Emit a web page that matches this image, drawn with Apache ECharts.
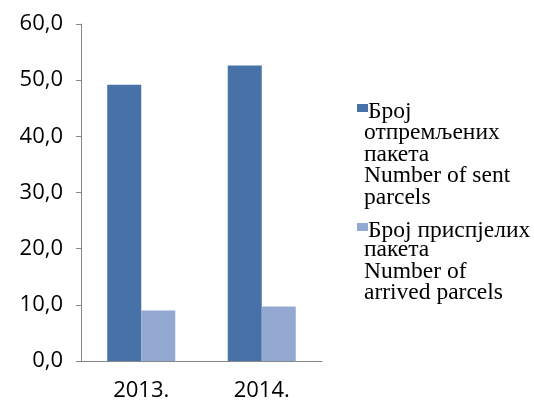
<!DOCTYPE html>
<html>
<head>
<meta charset="utf-8">
<script src="https://cdn.jsdelivr.net/npm/echarts@6/dist/echarts.min.js"></script>
<style>
  html, body { margin: 0; padding: 0; background: #fff; }
  #chart { width: 534px; height: 402px; }
</style>
</head>
<body>
<div id="chart"></div>
<script>
const years = ['2013.', '2014.'];
const sentParcels = [49.2, 52.6];
const arrivedParcels = [9.0, 9.7];
const yTicks = [0, 10, 20, 30, 40, 50, 60];

// legend lines: first line sits next to the marker, the rest wrap under it
const sentLabel = ['Број', 'отпремљених', 'пакета', 'Number of sent', 'parcels'];
const arrivedLabel = ['Број приспјелих', 'пакета', 'Number of', 'arrived parcels'];

const colors = ['#4672A8', '#94A9D1'];
const legendFont = '23.5px "Liberation Serif"';

const chart = echarts.init(document.getElementById('chart'));

const legendItem = (lines, color, top, restTop) => [
  { type: 'rect', left: 357, top: top + 4, shape: { width: 11, height: 8 }, style: { fill: color } },
  {
    type: 'text', left: 368, top: top,
    style: { text: lines[0], font: legendFont, lineHeight: 21.5, fill: '#000' }
  },
  {
    type: 'text', left: 364, top: restTop,
    style: { text: lines.slice(1).join('\n'), font: legendFont, lineHeight: 21.5, fill: '#000' }
  }
];

const option = {
  animation: false,
  grid: { left: 81, right: 212, top: 24, bottom: 39 },
  xAxis: {
    type: 'category',
    data: years,
    axisLine: { lineStyle: { color: '#868686', width: 1 } },
    axisTick: { show: false },
    axisLabel: { color: '#000', fontFamily: 'Open Sans', fontSize: 22, margin: 19 }
  },
  yAxis: {
    type: 'value',
    min: yTicks[0],
    max: yTicks[yTicks.length - 1],
    interval: 10,
    splitLine: { show: false },
    axisLine: { show: true, lineStyle: { color: '#868686', width: 1 } },
    axisTick: { show: true, length: 5, lineStyle: { color: '#868686' } },
    axisLabel: {
      color: '#000', fontFamily: 'Open Sans', fontSize: 22, margin: 18,
      formatter: v => v.toFixed(1).replace('.', ',')
    }
  },
  series: [
    { name: 'sent', type: 'bar', data: sentParcels, barWidth: 34, barGap: 0, itemStyle: { color: colors[0] } },
    { name: 'arrived', type: 'bar', data: arrivedParcels, barWidth: 34, barGap: 0, itemStyle: { color: colors[1] } }
  ],
  graphic: [
    ...legendItem(sentLabel, colors[0], 100, 121),
    ...legendItem(arrivedLabel, colors[1], 219, 238)
  ]
};

chart.setOption(option);
</script>
</body>
</html>
